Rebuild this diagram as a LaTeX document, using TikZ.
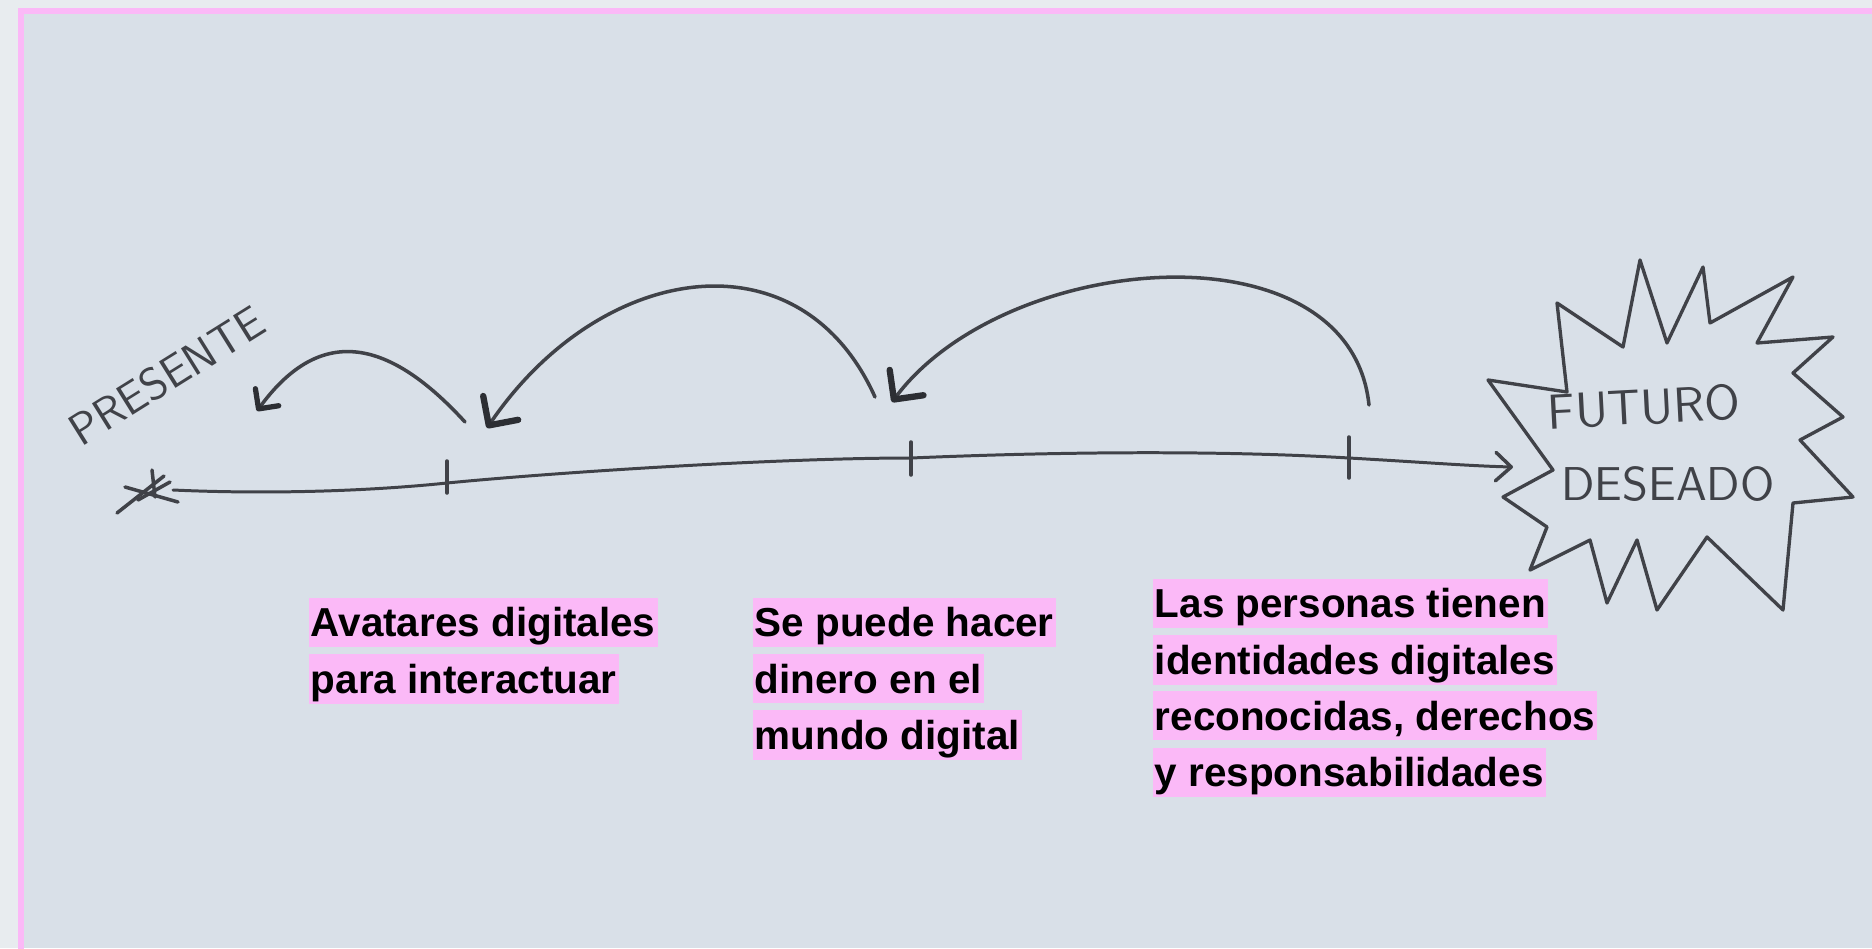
\documentclass[tikz,border=0pt]{standalone}
\usepackage{fontspec}
\newfontfamily\notefont{Liberation Sans}
\usetikzlibrary{arrows.meta, calc}

\definecolor{canvas}{RGB}{232,236,239}
\definecolor{paper}{RGB}{217,224,232}
\definecolor{hlpink}{RGB}{251,185,247}
\definecolor{ink}{RGB}{64,66,72}
\definecolor{darkink}{RGB}{44,46,51}

\setlength{\fboxsep}{0.6pt}
\newcommand{\hl}[1]{\colorbox{hlpink}{\rule[-2.3pt]{0pt}{12.8pt}#1}}

\tikzset{
  pencil/.style={draw=ink, line width=0.85pt, line cap=round, line join=round},
  tick/.style={pencil, line width=1pt},
  jump/.style={pencil, line width=1pt, -{Straight Barb[angle=90:8.5pt, round, line width=1.8pt, color=darkink]}},
  small jump/.style={pencil, line width=1pt, -{Straight Barb[angle=90:5.8pt, round, line width=1.5pt, color=darkink]}},
  note/.style={inner sep=0pt, anchor=north west, align=left, font=\notefont\bfseries\fontsize{11.5}{16}\selectfont},
  hand/.style={inner sep=0pt, text=ink, font=\sffamily}
}

\begin{document}
\begin{tikzpicture}[x=0.01cm, y=-0.01cm]
  \useasboundingbox (0,0) rectangle (1872,948);
  \clip (0,0) rectangle (1872,948);

  % background sheet
  \fill[canvas] (0,0) rectangle (1872,948);
  \fill[paper] (21,11) rectangle (1872,948);
  \draw[hlpink, line width=1.8pt] (21,960) -- (21,11) -- (1880,11);

  % timeline
  \coordinate (now) at (173,490);
  \coordinate (t1) at (447,483);
  \coordinate (t2) at (911,458);
  \coordinate (t3) at (1349,458);
  \coordinate (goal) at (1513,467);

  \draw[pencil, -{Straight Barb[angle=85:6pt, round, line width=1pt, color=ink]}] (now)
    .. controls (260,494) and (360,492) .. (t1)
    .. controls (560,472) and (780,458) .. (t2)
    .. controls (1100,450) and (1250,452) .. (t3)
    .. controls (1420,462) and (1470,466) .. (goal);

  \foreach \t/\up/\down in {t1/22/10, t2/16/17, t3/21/20}
    \draw[tick] (\t) ++(0,-\up) -- ++(0,\up+\down);

  % asterisk for the present
  \draw[pencil, line width=1pt] (117,513) -- (164,476);
  \draw[pencil, line width=1pt] (125,487) -- (178,502);
  \draw[pencil, line width=1pt] (152,470) -- (155,497);
  \draw[pencil, line width=1pt] (138,500) -- (170,482);

  \node[hand, rotate=32, font=\sffamily\fontsize{12.8}{13}\selectfont] (presente) at (167,376) {PRESENTE};

  % jumps back from the future
  \coordinate (j1from) at (465,422);
  \coordinate (j1to) at (257,411);
  \coordinate (j2from) at (875,397);
  \coordinate (j2to) at (487,428);
  \coordinate (j3from) at (1369,405);
  \coordinate (j3to) at (892,402);

  \draw[small jump] (j1from) .. controls (391,341) and (322,322) .. (j1to);
  \draw[jump] (j2from) .. controls (800,230) and (600,262) .. (j2to);
  \draw[jump] (j3from) .. controls (1350,222) and (1006,250) .. (j3to);

  % starburst
  \draw[pencil, line width=0.95pt] (1488,380) -- (1567,392) -- (1557,303) -- (1623,347)
    -- (1640,260) -- (1667,343) -- (1703,267) -- (1710,323) -- (1793,277)
    -- (1757,343) -- (1833,337) -- (1793,373) -- (1843,417) -- (1800,440)
    -- (1853,497) -- (1793,503) -- (1783,610) -- (1707,537) -- (1657,610)
    -- (1637,540) -- (1607,603) -- (1590,540) -- (1530,570) -- (1547,527)
    -- (1503,497) -- (1553,470) -- cycle;

  \node[hand, rotate=3, font=\sffamily\fontsize{14}{15}\selectfont] (futuro) at (1644,407) {FUTURO};
  \node[hand, font=\sffamily\fontsize{13.5}{14}\selectfont] (deseado) at (1668,484) {DESEADO};

  % milestones
  \node[note] (avatares) at (308,597) {\hl{Avatares digitales}\\\hl{para interactuar}};
  \node[note] (dinero) at (752,597) {\hl{Se puede hacer}\\\hl{dinero en el}\\\hl{mundo digital}};
  \node[note] (identidad) at (1152,578) {\hl{Las personas tienen}\\\hl{identidades digitales}\\\hl{reconocidas, derechos}\\\hl{y responsabilidades}};
\end{tikzpicture}
\end{document}
